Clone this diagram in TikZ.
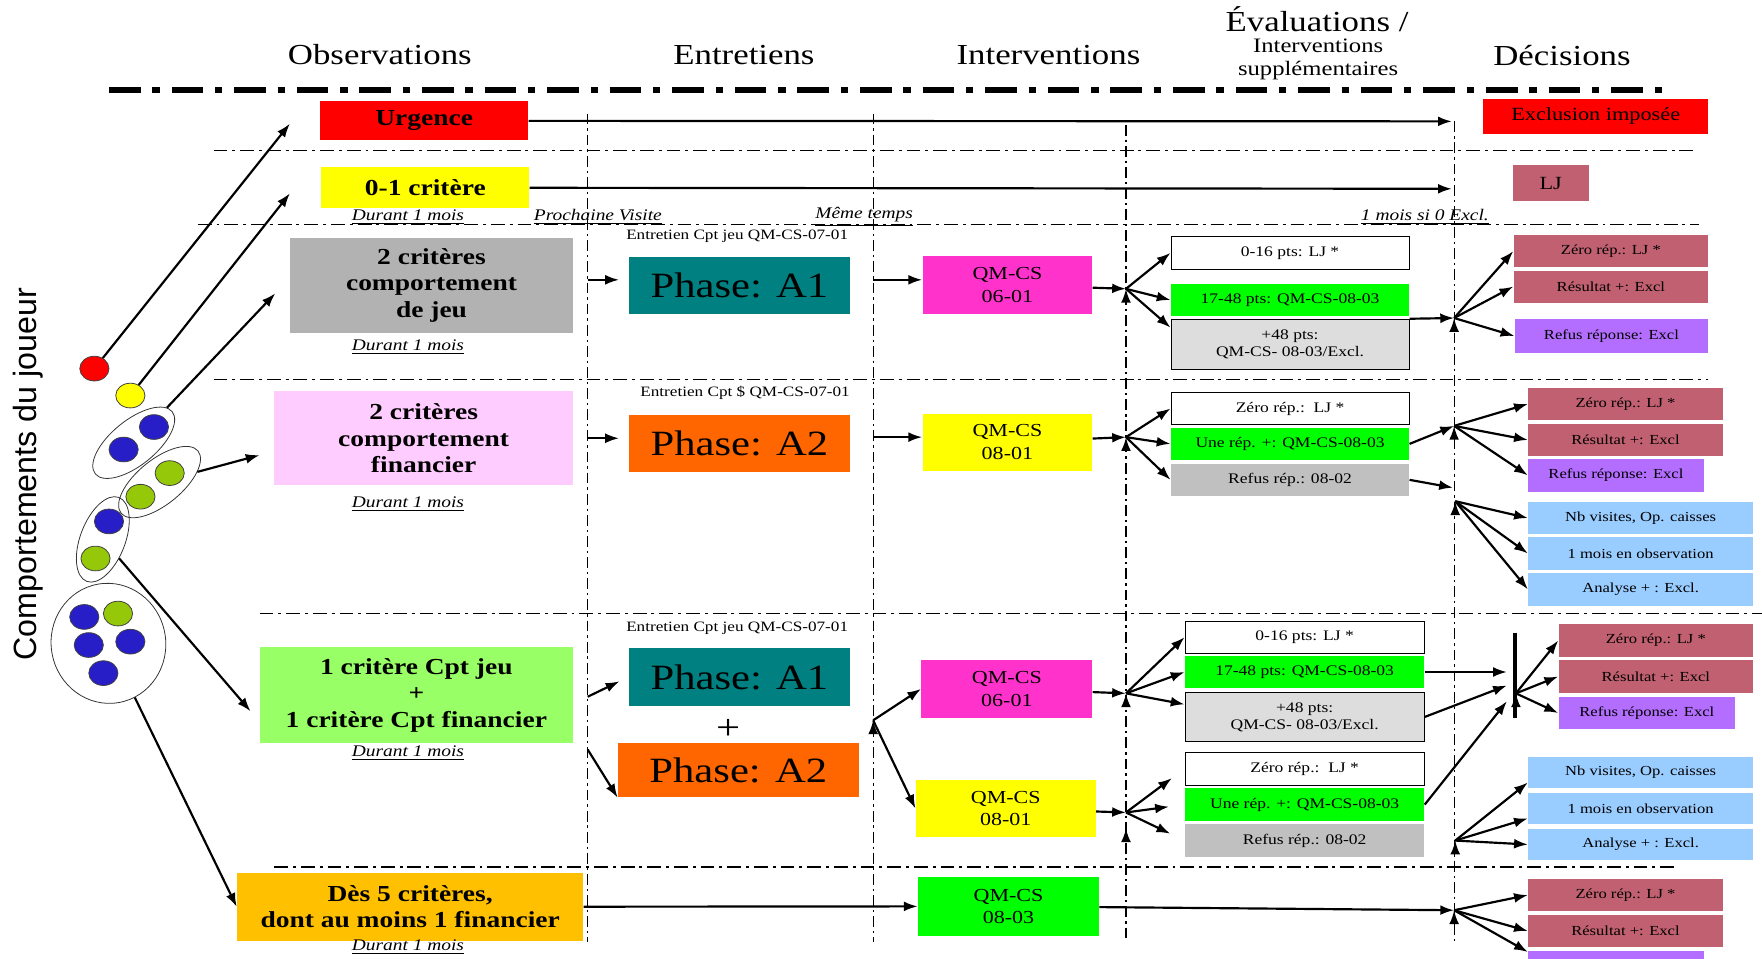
\documentclass[tikz,border=0pt]{standalone}
\usepackage{fontspec}
\setmainfont{Liberation Serif}[FakeStretch=1.2,
  UprightFont=Liberation Serif,
  BoldFont=Liberation Serif Bold,
  ItalicFont=Liberation Serif Italic,
  BoldItalicFont=Liberation Serif Bold Italic]
\newfontfamily\jsans{Liberation Sans}
\usetikzlibrary{shapes}
\usetikzlibrary{shapes.geometric}
\usetikzlibrary{positioning}
\usetikzlibrary{arrows.meta}
\definecolor{rouge}{RGB}{255,0,0}
\definecolor{jaune}{RGB}{255,255,0}
\definecolor{vieuxrose}{RGB}{192,96,112}
\definecolor{mauve}{RGB}{180,110,255}
\definecolor{bleuclair}{RGB}{153,204,255}
\definecolor{grisjeu}{RGB}{178,178,178}
\definecolor{grisclair}{RGB}{221,221,221}
\definecolor{grismoyen}{RGB}{192,192,192}
\definecolor{rosepale}{RGB}{255,204,255}
\definecolor{vertpomme}{RGB}{153,255,102}
\definecolor{orjaune}{RGB}{255,192,0}
\definecolor{sarcelle}{RGB}{0,128,128}
\definecolor{orangevif}{RGB}{255,102,0}
\definecolor{fuchsia}{RGB}{255,51,204}
\definecolor{vertvif}{RGB}{0,255,0}
\definecolor{bleubille}{RGB}{40,30,200}
\definecolor{vertbille}{RGB}{150,200,10}
\tikzset{
    titre/.style = {font=\fontsize{14.7}{17}\selectfont},
    crit/.style = {rectangle, inner sep=0pt, align=center, font=\fontsize{11.6}{13.4}\selectfont\bfseries},
    phase/.style = {rectangle, inner sep=0pt, minimum width=3.92cm, font=\fontsize{18}{20}\selectfont},
    qm/.style = {rectangle, inner sep=0pt, minimum width=3.02cm, minimum height=1.02cm, align=center, font=\fontsize{9.3}{11.4}\selectfont},
    evalb/.style = {rectangle, inner sep=0pt, minimum width=4.24cm, minimum height=0.57cm, align=center, font=\fontsize{7.4}{8.5}\selectfont},
    decb/.style = {rectangle, inner sep=0pt, minimum width=3.46cm, minimum height=0.57cm, font=\fontsize{7}{8}\selectfont},
    note/.style = {font=\fontsize{8.2}{9}\selectfont\itshape},
    petit/.style = {font=\fontsize{7.25}{8}\selectfont},
    bille/.style = {ellipse, draw=black!75, thin, inner sep=0pt, minimum width=0.52cm, minimum height=0.44cm},
    groupe/.style = {ellipse, draw=black!80, thin, inner sep=0pt},
    edgen/.style = {-{Latex[length=7pt,width=5pt]}, line width=1.1pt},
    hsep/.style = {line width=0.6pt, dash pattern=on 7pt off 2.5pt on 1.5pt off 2.5pt}, % rows
    vsep/.style = {line width=0.6pt, dash pattern=on 5.5pt off 2pt on 1.2pt off 2pt}, % columns
    bigsep/.style = {line width=3pt, dash pattern=on 16pt off 6pt on 3.7pt off 6pt}
}
\begin{document}
\begin{tikzpicture}[x=0.02cm,y=-0.02cm]
\useasboundingbox (0,0) rectangle (1568,853);
%
\node[titre] at (338,49) (hobs) {Observations};
\node[titre] at (662,49) (hent) {Entretiens};
\node[titre] at (933,49) (hint) {Interventions};
\node[titre] at (1172,17) (heva) {Évaluations /};
\node[align=center, font=\fontsize{10.4}{11.4}\selectfont] at (1173,53) (hsup) {Interventions\\supplémentaires};
\node[titre] at (1390,49) (hdec) {Décisions};
\node[rotate=90, font=\jsans\fontsize{16.3}{18}\selectfont] at (25,422) (axe) {Comportements du joueur};
%
\draw[bigsep] (97,80) -- (1483,80);
\draw[hsep] (190,134) -- (1508,134);
\draw[hsep] (176,200) -- (1512,200);
\draw[hsep] (190,338) -- (1520,338);
\draw[hsep] (231,546) -- (1568,546);
\draw[hsep] (244,771.5) -- (1493,771.5);
\draw[vsep] (523,101) -- (523,838);
\draw[vsep] (777,101) -- (777,838);
\draw[vsep] (1002,111) -- (1002,838);
\draw[vsep] (1294,108) -- (1294,838);
%
\node[groupe, minimum width=1.76cm, minimum height=0.8cm, rotate=39] at (119,394) (g1) {};
\node[groupe, minimum width=1.76cm, minimum height=0.8cm, rotate=39] at (142,429) (g2) {};
\node[groupe, minimum width=1.6cm, minimum height=0.8cm, rotate=69] at (91.5,480) (g3) {};
\node[groupe, minimum width=2.04cm, minimum height=2.14cm, rotate=10] at (96.5,572.5) (g4) {};
\node[bille, fill=rouge] at (84,328) (rd) {};
\node[bille, fill=jaune] at (116,352) (jn) {};
\node[bille, fill=bleubille] at (137,380) (b1) {};
\node[bille, fill=bleubille] at (110,400) (b2) {};
\node[bille, fill=vertbille] at (151,421) (v1) {};
\node[bille, fill=vertbille] at (125,442) (v2) {};
\node[bille, fill=bleubille] at (97,464) (b3) {};
\node[bille, fill=vertbille] at (85,497) (v3) {};
\node[bille, fill=bleubille] at (75,549) (b4) {};
\node[bille, fill=vertbille] at (105,546) (v4) {};
\node[bille, fill=bleubille] at (79,574) (b5) {};
\node[bille, fill=bleubille] at (116,571) (b6) {};
\node[bille, fill=bleubille] at (92,599) (b7) {};
%
\node[crit, fill=rouge, minimum width=3.7cm, minimum height=0.7cm] at (377.5,107.5) (urg) {Urgence};
\node[rectangle, fill=rouge, minimum width=4.0cm, minimum height=0.62cm, font=\fontsize{9.4}{11}\selectfont] at (1420,103.5) (excl) {Exclusion imposée};
\node[crit, fill=jaune, minimum width=3.7cm, minimum height=0.72cm] at (378.5,167) (crit01) {0-1 critère};
\node[rectangle, fill=vieuxrose, minimum width=1.36cm, minimum height=0.64cm, font=\fontsize{9.4}{11}\selectfont] at (1380,163) (lj) {LJ};
\node[note] at (363,193) (n1) {\underline{Durant 1 mois}};
\node[note] at (532,193) (n2) {\underline{Prochaine Visite}};
\node[note] at (769,193) (n3) {\underline{Même temps}};
\node[note] at (1268,193) (n4) {\underline{1 mois si 0 Excl.}};
%
\node[crit, fill=grisjeu, minimum width=5.04cm, minimum height=1.68cm] at (384,254) (jeu) {2 critères\\comportement\\de jeu};
\node[note] at (363,309) (n5) {\underline{Durant 1 mois}};
\node[petit] at (656,210) (ent1) {Entretien Cpt jeu QM-CS-07-01};
\node[phase, fill=sarcelle, minimum height=1.0cm] at (658,254) (pa1) {Phase: A1};
\node[qm, fill=fuchsia] at (896.5,253.5) (qa) {QM-CS\\06-01};
\node[evalb, draw, fill=white, minimum height=0.6cm] at (1148,225) (ea1) {0-16 pts: LJ *};
\node[evalb, fill=vertvif, minimum height=0.56cm] at (1148,267) (ea2) {17-48 pts: QM-CS-08-03};
\node[evalb, draw, fill=grisclair, minimum height=0.9cm] at (1148,306.5) (ea3) {+48 pts:\\QM-CS- 08-03/Excl.};
\node[decb, fill=vieuxrose, minimum height=0.58cm] at (1433.5,223.5) (da1) {Zéro rép.: LJ *};
\node[decb, fill=vieuxrose] at (1433.5,255) (da2) {Résultat +: Excl};
\node[decb, fill=mauve, minimum width=3.44cm, minimum height=0.6cm] at (1434,299) (da3) {Refus réponse: Excl};
%
\node[crit, fill=rosepale, minimum width=5.32cm, minimum height=1.68cm] at (377,390) (fin) {2 critères\\comportement\\financier};
\node[note] at (363,449) (n6) {\underline{Durant 1 mois}};
\node[petit] at (663,350) (ent2) {Entretien Cpt \$ QM-CS-07-01};
\node[phase, fill=orangevif, minimum height=1.02cm] at (658,394.5) (pa2) {Phase: A2};
\node[qm, fill=jaune] at (896.5,393.5) (qb) {QM-CS\\08-01};
\node[evalb, draw, fill=white, minimum height=0.58cm] at (1148,363.5) (eb1) {Zéro rép.:\ \ LJ *};
\node[evalb, fill=vertvif, minimum height=0.56cm] at (1148,395) (eb2) {Une rép. +: QM-CS-08-03};
\node[evalb, fill=grismoyen, minimum height=0.56cm] at (1148,427) (eb3) {Refus rép.: 08-02};
\node[decb, fill=vieuxrose, minimum height=0.58cm] at (1446.5,359.5) (db1) {Zéro rép.: LJ *};
\node[decb, fill=vieuxrose, minimum height=0.58cm] at (1446.5,391.5) (db2) {Résultat +: Excl};
\node[decb, fill=mauve, minimum width=3.12cm, minimum height=0.58cm] at (1438,423) (db3) {Refus réponse: Excl};
\node[decb, fill=bleuclair, minimum width=4.0cm, minimum height=0.58cm] at (1460,461) (db4) {Nb visites, Op. caisses};
\node[decb, fill=bleuclair, minimum width=4.0cm, minimum height=0.58cm] at (1460,492.5) (db5) {1 mois en observation};
\node[decb, fill=bleuclair, minimum width=4.0cm, minimum height=0.58cm] at (1460,524.5) (db6) {Analyse + : Excl.};
%
\node[crit, fill=vertpomme, minimum width=5.58cm, minimum height=1.7cm] at (370.5,618.5) (mix) {1 critère Cpt jeu\\+\\1 critère Cpt financier};
\node[note] at (363,670) (n7) {\underline{Durant 1 mois}};
\node[petit] at (656,559) (ent3) {Entretien Cpt jeu QM-CS-07-01};
\node[phase, fill=sarcelle, minimum width=3.94cm, minimum height=1.04cm] at (658,602.5) (pc1) {Phase: A1};
\node[font=\fontsize{18}{20}\selectfont] at (648,649) (plus) {+};
\node[phase, fill=orangevif, minimum width=4.28cm, minimum height=0.96cm] at (657,685.5) (pc2) {Phase: A2};
\node[qm, fill=fuchsia, minimum width=3.04cm, minimum height=1.04cm] at (896,613) (qc1) {QM-CS\\06-01};
\node[qm, fill=jaune, minimum width=3.2cm] at (895,719.5) (qc2) {QM-CS\\08-01};
\node[evalb, draw, fill=white, minimum width=4.26cm, minimum height=0.56cm] at (1161,567) (ec1) {0-16 pts: LJ *};
\node[evalb, fill=vertvif, minimum width=4.26cm, minimum height=0.56cm] at (1161,598) (ec2) {17-48 pts: QM-CS-08-03};
\node[evalb, draw, fill=grisclair, minimum width=4.26cm, minimum height=0.88cm] at (1161,638) (ec3) {+48 pts:\\QM-CS- 08-03/Excl.};
\node[evalb, draw, fill=white, minimum width=4.26cm, minimum height=0.58cm] at (1161,684) (ec4) {Zéro rép.:\ \ LJ *};
\node[evalb, fill=vertvif, minimum width=4.26cm, minimum height=0.58cm] at (1161,716) (ec5) {Une rép. +: QM-CS-08-03};
\node[evalb, fill=grismoyen, minimum width=4.26cm, minimum height=0.58cm] at (1161,748) (ec6) {Refus rép.: 08-02};
\node[decb, fill=vieuxrose, minimum height=0.58cm] at (1473.5,570) (dc1) {Zéro rép.: LJ *};
\node[decb, fill=vieuxrose, minimum height=0.58cm] at (1473.5,602) (dc2) {Résultat +: Excl};
\node[decb, fill=mauve, minimum width=3.14cm, minimum height=0.58cm] at (1465.5,634.5) (dc3) {Refus réponse: Excl};
\node[decb, fill=bleuclair, minimum width=4.0cm, minimum height=0.56cm] at (1460,687.5) (dc4) {Nb visites, Op. caisses};
\node[decb, fill=bleuclair, minimum width=4.0cm, minimum height=0.56cm] at (1460,719.5) (dc5) {1 mois en observation};
\node[decb, fill=bleuclair, minimum width=4.0cm, minimum height=0.56cm] at (1460,751.5) (dc6) {Analyse + : Excl.};
%
\node[crit, fill=orjaune, minimum width=6.16cm, minimum height=1.2cm] at (365,807) (cinq) {Dès 5 critères,\\dont au moins 1 financier};
\node[note] at (363,843) (n8) {\underline{Durant 1 mois}};
\node[qm, fill=vertvif, minimum width=3.22cm, minimum height=1.06cm] at (897.5,806.5) (qd) {QM-CS\\08-03};
\node[decb, fill=vieuxrose, minimum height=0.58cm] at (1446.5,796.5) (dd1) {Zéro rép.: LJ *};
\node[decb, fill=vieuxrose, minimum height=0.58cm] at (1446.5,828.5) (dd2) {Résultat +: Excl};
\node[decb, fill=mauve, minimum width=3.12cm, minimum height=0.58cm] at (1438,861) (dd3) {};
%
\coordinate (t1) at (258,110);
\coordinate (t2) at (258,172);
\coordinate (t3) at (245,261);
\coordinate (t4) at (231,405);
\coordinate (t5) at (223,633);
\coordinate (u1) at (1292,108);
\coordinate (u2) at (1292,168);
\coordinate (v3) at (523,249);
\coordinate (w3) at (777,249);
\coordinate (ja) at (1002,257);
\coordinate (ka) at (1294,283);
\coordinate (v4) at (523,390);
\coordinate (w4) at (777,389);
\coordinate (jb) at (1002,389);
\coordinate (kb1) at (1294,379);
\coordinate (kb2) at (1293,434);
\coordinate (kb3) at (1295,446);
\coordinate (v5) at (523,620);
\coordinate (v5b) at (523,667);
\coordinate (w5) at (777,641);
\coordinate (jc1) at (1002,617);
\coordinate (jc2) at (1002,723);
\coordinate (bt) at (1348,563);
\coordinate (bb) at (1348,639);
\coordinate (h1) at (1341,598);
\coordinate (h2) at (1341,610);
\coordinate (h3) at (1341,624);
\coordinate (kc1) at (1349,617);
\coordinate (kc2) at (1295,748);
\coordinate (kd) at (1294,810);
%
\draw[edgen] (rd) -- (t1);
\draw[edgen] (jn) -- (t2);
\draw[edgen] (g1) -- (t3);
\draw[edgen] (g2) -- (t4);
\draw[edgen] (g3) -- (t5);
\draw[edgen] (g4) -- (cinq.west);
%
\draw[edgen] (urg) -- (u1);
\draw[edgen] (crit01) -- (u2);
%
\draw[edgen,shorten >=5pt] (v3) -- (v3 -| pa1.west);
\draw[edgen] (w3) -- (w3 -| qa.west);
\draw[edgen] (qa) -- (ja);
\draw[edgen] (ja) edge (ea1.west) edge (ea2.west) edge (ea3.172);
\draw[edgen] (ea3.north east) -- (ka);
\draw[edgen] (ka) edge (da1.west) edge (da2.west) edge (da3.west);
%
\draw[edgen,shorten >=5pt] (v4) -- (v4 -| pa2.west);
\draw[edgen] (w4) -- (w4 -| qb.west);
\draw[edgen] (qb) -- (jb);
\draw[edgen] (jb) edge (eb1.west) edge (eb2.west) edge (eb3.west);
\draw[edgen] (eb2.east) -- (kb1);
\draw[edgen] (kb1) edge (db1.west) edge (db2.west) edge (db3.west);
\draw[edgen] (eb3.east) -- (kb2);
\draw[edgen] (kb3) edge (db4.west) edge (db5.west) edge (db6.west);
%
\draw[edgen,shorten >=5pt] (v5) -- (pc1.west);
\draw[edgen] (v5b) -- (pc2.south west);
\draw[edgen] (w5) edge (qc1.west) edge (qc2.west);
\draw[edgen] (qc1) -- (jc1);
\draw[edgen] (jc1) edge (ec1.west) edge (ec2.west) edge (ec3.174);
\draw[edgen] (qc2) -- (jc2);
\draw[edgen,shorten >=8pt] (jc2) edge (ec4.west) edge (ec5.west) edge (ec6.west);
\draw[line width=2pt] (bt) -- (bb);
\draw[edgen] (ec2.east) -- (h1);
\draw[edgen] (ec3.east) -- (h2);
\draw[edgen] (ec5.east) -- (h3);
\draw[edgen] (kc1) edge (dc1.west) edge (dc2.west) edge (dc3.west);
\draw[edgen] (kc2) edge (dc4.185) edge (dc5.185) edge (dc6.west);
%
\draw[edgen] (cinq) -- (qd);
\draw[edgen] (qd) -- (kd);
\draw[edgen] (kd) edge (dd1.west) edge (dd2.west) edge (dd3.170);
\end{tikzpicture}
\end{document}
